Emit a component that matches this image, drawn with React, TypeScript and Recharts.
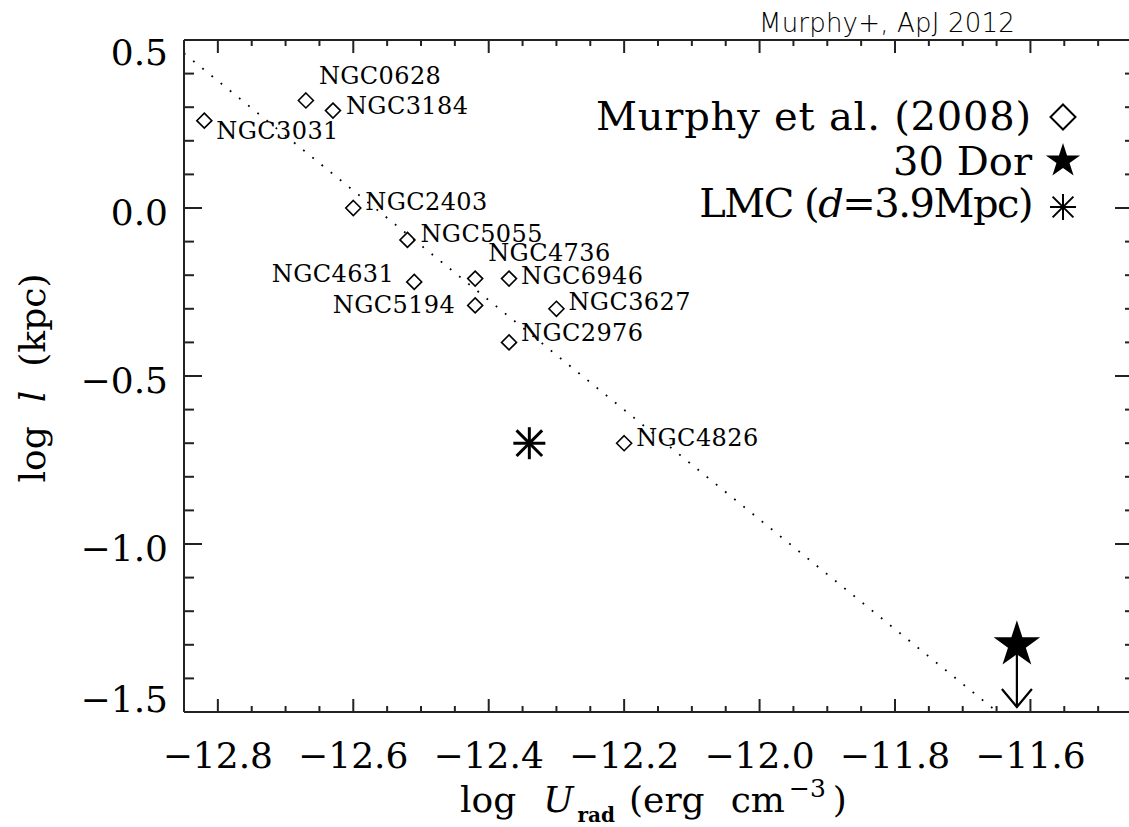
import React from 'react';
import { ScatterChart, Scatter, XAxis, YAxis, ReferenceLine } from 'recharts';

// Murphy et al. (2008) galaxies
const galaxyNames = ['NGC3031', 'NGC0628', 'NGC3184', 'NGC2403', 'NGC5055', 'NGC4631', 'NGC4736', 'NGC6946', 'NGC5194', 'NGC3627', 'NGC2976', 'NGC4826'];
const galaxyLogU = [-12.82, -12.67, -12.63, -12.6, -12.52, -12.51, -12.42, -12.37, -12.42, -12.3, -12.37, -12.2];
const galaxyLogL = [0.26, 0.32, 0.29, 0.0, -0.095, -0.22, -0.21, -0.21, -0.29, -0.3, -0.4, -0.7];

const lmcPoint = [{ x: -12.34, y: -0.7 }];
const dorPoint = [{ x: -11.62, y: -1.3 }];
const dorLimit = [{ x: -11.62, y: -1.3 }, { x: -11.62, y: -1.485 }];
const fitLine = [{ x: -12.85, y: 0.46 }, { x: -11.655, y: -1.49 }];

const xDomain = [-12.85, -11.45];
const yDomain = [-1.5, 0.5];
const xMajor = [-12.8, -12.6, -12.4, -12.2, -12.0, -11.8, -11.6];
const xMinor = [-12.75, -12.7, -12.65, -12.55, -12.5, -12.45, -12.35, -12.3, -12.25, -12.15, -12.1, -12.05, -11.95, -11.9, -11.85, -11.75, -11.7, -11.65, -11.55, -11.5];
const yMajor = [0.5, 0.0, -0.5, -1.0, -1.5];
const yMinor = [0.4, 0.3, 0.2, 0.1, -0.1, -0.2, -0.3, -0.4, -0.6, -0.7, -0.8, -0.9, -1.1, -1.2, -1.3, -1.4];

const galaxies = galaxyNames.map((name, i) => ({ name, x: galaxyLogU[i], y: galaxyLogL[i] }));

// label placement next to each diamond: dx, dy (baseline), anchor
const labelPos: Record<string, [number, number, string]> = {
  NGC3031: [12, 18, 'start'],
  NGC0628: [13, -16, 'start'],
  NGC3184: [13, 3, 'start'],
  NGC2403: [12, 2, 'start'],
  NGC5055: [13, 2, 'start'],
  NGC4736: [13, -18, 'start'],
  NGC6946: [12, 5, 'start'],
  NGC4631: [-20, 0, 'end'],
  NGC5194: [-20, 8, 'end'],
  NGC3627: [12, 1, 'start'],
  NGC2976: [12, -1, 'start'],
  NGC4826: [12, 3, 'start'],
};

const SERIF = "'DejaVu Serif', serif";
const AXIS = '#222';

const fmt = (v: number) => v.toFixed(1).replace('-', '\u2212');

const starPath = (cx: number, cy: number, R: number) => {
  const r = R * 0.382;
  let d = '';
  for (let i = 0; i < 10; i++) {
    const a = ((-90 + i * 36) * Math.PI) / 180;
    const rad = i % 2 ? r : R;
    d += (i ? 'L' : 'M') + (cx + rad * Math.cos(a)).toFixed(2) + ',' + (cy + rad * Math.sin(a)).toFixed(2);
  }
  return d + 'Z';
};

const Diamond = ({ cx, cy, h, w = 1.6 }: any) => (
  <path d={`M${cx},${cy - h}L${cx + h},${cy}L${cx},${cy + h}L${cx - h},${cy}Z`} fill="none" stroke="#000" strokeWidth={w} />
);

const Asterisk = ({ cx, cy, h, w }: any) => (
  <g stroke="#000" strokeWidth={w}>
    <line x1={cx} y1={cy - h} x2={cx} y2={cy + h} />
    <line x1={cx - h} y1={cy} x2={cx + h} y2={cy} />
    <line x1={cx - h * 0.8} y1={cy - h * 0.8} x2={cx + h * 0.8} y2={cy + h * 0.8} />
    <line x1={cx - h * 0.8} y1={cy + h * 0.8} x2={cx + h * 0.8} y2={cy - h * 0.8} />
  </g>
);

const GalaxyShape = (props: any) => {
  const { cx, cy, payload } = props;
  const [dx, dy, anchor] = labelPos[payload.name] || [12, 0, 'start'];
  return (
    <g>
      <Diamond cx={cx} cy={cy} h={7.5} />
      <text x={cx + dx} y={cy + dy} textAnchor={anchor} fontFamily={SERIF} fontSize={24} letterSpacing={0.4} fill="#000">
        {payload.name}
      </text>
    </g>
  );
};

const BottomLabel = (props: any) => (
  <text x={props.x} y={props.y + 56} textAnchor="middle" fontFamily={SERIF} fontSize={36} fill="#000">
    {fmt(props.payload.value)}
  </text>
);

const LeftLabel = (props: any) => {
  const v = props.payload.value;
  const base = v > 0.45 ? 25 : v < -1.45 ? 0 : 17;
  return (
    <text x={props.x - 16} y={props.y + base} textAnchor="end" fontFamily={SERIF} fontSize={36} fill="#000">
      {fmt(v)}
    </text>
  );
};

// inward tick marks drawn at both ends of a reference line spanning the plot
const vTick = (bottomLen: number, topLen: number) => (p: any) => {
  const x = p.x1;
  const lo = Math.max(p.y1, p.y2);
  const hi = Math.min(p.y1, p.y2);
  return (
    <g stroke={AXIS} strokeWidth={2}>
      <line x1={x} x2={x} y1={lo} y2={lo - bottomLen} />
      <line x1={x} x2={x} y1={hi} y2={hi + topLen} />
    </g>
  );
};
const hTick = (leftLen: number, rightLen: number) => (p: any) => {
  const y = p.y1;
  const l = Math.min(p.x1, p.x2);
  const r = Math.max(p.x1, p.x2);
  return (
    <g stroke={AXIS} strokeWidth={2}>
      <line x1={l} x2={l + leftLen} y1={y} y2={y} />
      <line x1={r} x2={r - rightLen} y1={y} y2={y} />
    </g>
  );
};
const xMajorTick = vTick(13, 13);
const xMinorTick = vTick(6, 6);
const yMajorTick = hTick(18, 17);
const yMinorTick = hTick(10, 7);

const Empty = () => <g />;

const App: React.FC = () => {
  const axisLine = { stroke: AXIS, strokeWidth: 2 };
  const xCommon = { type: 'number' as const, dataKey: 'x', domain: xDomain, interval: 0 as const, allowDataOverflow: true, height: 1, tickLine: false, tickSize: 0, tickMargin: 0, axisLine };
  const yCommon = { type: 'number' as const, dataKey: 'y', domain: yDomain, interval: 0 as const, allowDataOverflow: true, width: 1, tickLine: false, tickSize: 0, tickMargin: 0, axisLine };
  return (
    <div style={{ position: 'fixed', left: 0, top: 0, width: 1129, height: 827, overflow: 'hidden', background: '#fff' }}>
      <ScatterChart width={1140} height={827} margin={{ top: 39, right: 7, bottom: 114, left: 183 }}>
        <XAxis {...xCommon} xAxisId="b" orientation="bottom" ticks={xMajor} tick={BottomLabel} />
        <YAxis {...yCommon} yAxisId="l" orientation="left" ticks={yMajor} tick={LeftLabel} />
        <XAxis {...xCommon} xAxisId="t" orientation="top" ticks={xMajor} tick={false} />
        <YAxis {...yCommon} yAxisId="r" orientation="right" ticks={yMajor} tick={false} />
        <Scatter data={fitLine} xAxisId="t" yAxisId="r" shape={Empty} isAnimationActive={false} />

        {xMajor.map((v) => (
          <ReferenceLine key={`xM${v}`} xAxisId="b" yAxisId="l" x={v} shape={xMajorTick} />
        ))}
        {xMinor.map((v) => (
          <ReferenceLine key={`xm${v}`} xAxisId="b" yAxisId="l" x={v} shape={xMinorTick} />
        ))}
        {yMajor.map((v) => (
          <ReferenceLine key={`yM${v}`} xAxisId="b" yAxisId="l" y={v} shape={yMajorTick} />
        ))}
        {yMinor.map((v) => (
          <ReferenceLine key={`ym${v}`} xAxisId="b" yAxisId="l" y={v} shape={yMinorTick} />
        ))}

        <ReferenceLine xAxisId="b" yAxisId="l" segment={fitLine} stroke="#000" strokeWidth={1.8} strokeDasharray="1.8 10" ifOverflow="visible" />

        <Scatter xAxisId="b" yAxisId="l" data={galaxies} shape={GalaxyShape} isAnimationActive={false} />
        <Scatter xAxisId="b" yAxisId="l" data={lmcPoint} shape={(p: any) => <Asterisk cx={p.cx} cy={p.cy} h={16} w={3} />} isAnimationActive={false} />
        <Scatter xAxisId="b" yAxisId="l" data={dorLimit} line={{ stroke: '#000', strokeWidth: 2.2 }} isAnimationActive={false}
          shape={(p: any) =>
            p.payload.y === dorLimit[1].y ? (
              <path d={`M${p.cx - 15},${p.cy - 18}L${p.cx},${p.cy}L${p.cx + 15},${p.cy - 18}`} fill="none" stroke="#000" strokeWidth={2.2} />
            ) : (
              <g />
            )
          } />
        <Scatter xAxisId="b" yAxisId="l" data={dorPoint} shape={(p: any) => <path d={starPath(p.cx, p.cy, 24.5)} fill="#000" />} isAnimationActive={false} />
      </ScatterChart>

      <svg width={1129} height={827} style={{ position: 'absolute', left: 0, top: 0, pointerEvents: 'none' }}>
        <text x={759} y={32} fontFamily="'DejaVu Sans', sans-serif" fontWeight={200} fontSize={26} letterSpacing={0.2} fill="#000">
          Murphy+, ApJ 2012
        </text>

        <g fontFamily={SERIF} fontSize={40} fill="#000">
          <text x={1032} y={130} textAnchor="end" letterSpacing={0.8}>Murphy et al. (2008)</text>
          <text x={1032} y={175} textAnchor="end">30 Dor</text>
          <text x={1032} y={217} textAnchor="end" letterSpacing={-1.5}>
            LMC (<tspan fontStyle="italic">d</tspan>=3.9Mpc)
          </text>
        </g>
        <Diamond cx={1063} cy={117} h={12.5} w={2} />
        <path d={starPath(1063, 161, 18)} fill="#000" />
        <Asterisk cx={1063} cy={207} h={13} w={2} />

        <text x={460} y={812} fontFamily={SERIF} fontSize={36} fill="#000">
          log
          <tspan dx={27} fontStyle="italic">U</tspan>
          <tspan dx={4} dy={10} fontSize={20} fontWeight="bold">rad</tspan>
          <tspan dx={14} dy={-10}>(erg</tspan>
          <tspan dx={26}>cm</tspan>
          <tspan dx={4} dy={-15} fontSize={25}>{'\u2212'}3</tspan>
          <tspan dx={7} dy={15}>)</tspan>
        </text>

        <text transform="translate(45,378) rotate(-90)" textAnchor="middle" fontFamily={SERIF} fontSize={36} fill="#000">
          log
          <tspan dx={24} fontStyle="italic">l</tspan>
          <tspan dx={24}>(kpc)</tspan>
        </text>
      </svg>
    </div>
  );
};

export default App;
